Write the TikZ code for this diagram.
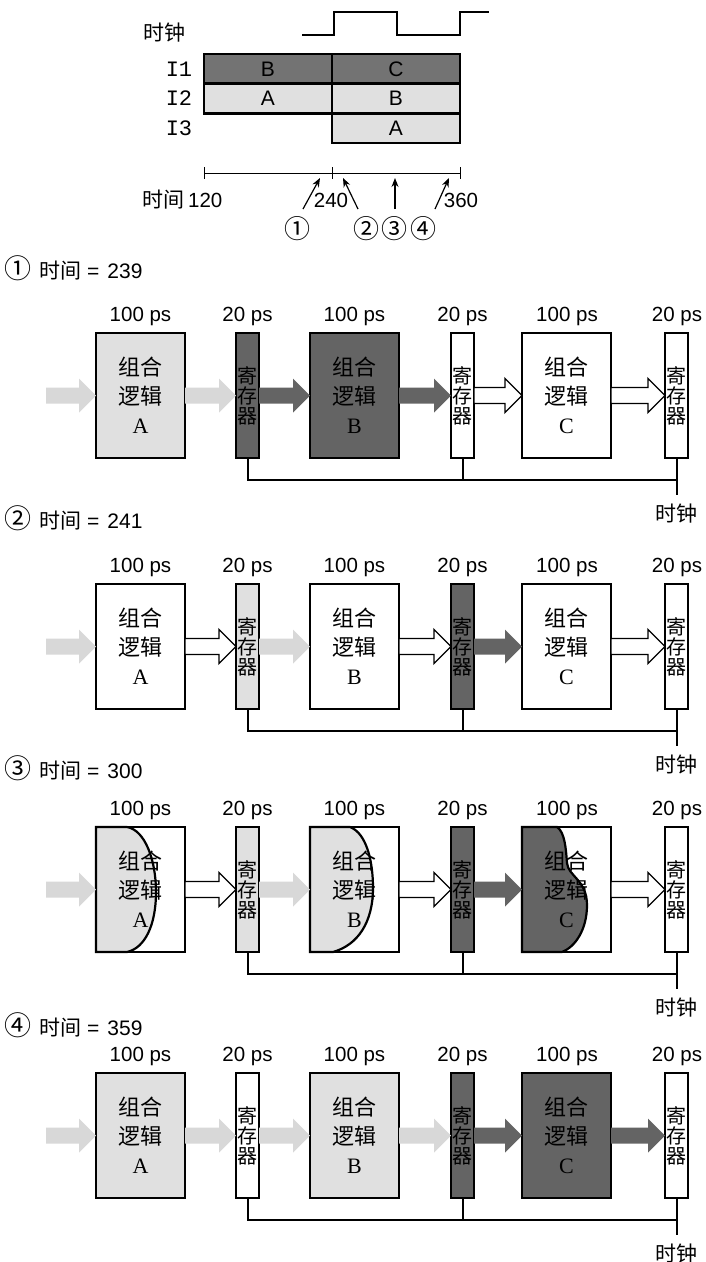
\documentclass[tikz,border=0pt]{standalone}
\usepackage{fontspec}
\setmainfont{Liberation Serif}
\newfontfamily\cjk{Noto Sans CJK SC}
\newfontfamily\hel{Liberation Sans}
\newfontfamily\mono{Liberation Mono}
\usetikzlibrary{calc,arrows.meta}
\definecolor{lt}{HTML}{E0E0E0}
\definecolor{dk}{HTML}{646464}
\definecolor{dkt}{HTML}{737373}
\definecolor{fd}{HTML}{D8D8D8}
\newcommand\fsz[1]{\fontsize{#1}{#1}\selectfont}
\tikzset{
  blk/.style={draw=black, line width=2.5pt, minimum width=89pt, minimum height=125pt,
    anchor=north west, inner sep=0pt, outer sep=0pt, align=center,
    font=\fontsize{22}{29}\selectfont},
  reg/.style={draw=black, line width=2.5pt, minimum width=23pt, minimum height=125pt,
    anchor=north west, inner sep=0pt, outer sep=0pt, align=center,
    font=\cjk\fontsize{20}{20}\selectfont},
  cell/.style={draw=black, line width=2.5pt, minimum width=128pt, minimum height=29.7pt,
    anchor=north west, inner sep=0pt, outer sep=0pt, font=\hel\fsz{21}},
  ps/.style={font=\hel\fsz{20.5}, inner sep=0pt},
  cjkl/.style={font=\cjk\fsz{21}, inner sep=0pt},
  monol/.style={font=\mono\fsz{22}, inner sep=0pt},
  circ/.style={font=\cjk\fsz{26}, inner sep=0pt},
  head/.style={anchor=west, inner sep=0pt},
  fade/.style={fill=fd, draw=none},
  dark/.style={fill=dk, draw=none},
  hollow/.style={fill=white, draw=black, line width=1.3pt, line join=miter},
  clk/.style={draw=black, line width=2pt},
  wave/.style={draw=black, line width=1.5pt},
  tarr/.style={draw=black, line width=1.2pt, -{Stealth[length=9pt,width=7pt]}},
  curvefill/.style={line width=2.2pt, draw=black},
}
\newcommand\fatarrow[3]{\path[#1] let \p1=(#2), \p2=(#3) in
  (\x1,\y1+8pt) -- (\x2-17pt,\y1+8pt) -- (\x2-17pt,\y1+17pt) -- (\x2,\y1) --
  (\x2-17pt,\y1-17pt) -- (\x2-17pt,\y1-8pt) -- (\x1,\y1-8pt) -- cycle;}
\newcommand\hd[2]{{\cjk\fsz{27}#1}\hspace{8pt}{\cjk\fsz{21}时间}\hspace{6pt}{\hel\fsz{21}=\hspace{8pt}#2}}
\newcommand\drawpanel[3]{%
  #3
  \node[ps] (pa#2) at (140.5,#1-17) {100 ps};
  \node[ps] (pb#2) at (247.5,#1-17) {20 ps};
  \node[ps] (pc#2) at (354.5,#1-17) {100 ps};
  \node[ps] (pd#2) at (462.5,#1-17) {20 ps};
  \node[ps] (pe#2) at (567,#1-17) {100 ps};
  \node[ps] (pf#2) at (677,#1-17) {20 ps};
  \node[blk,sA] (A#2) at (96,#1) {{\cjk 组合}\\{\cjk 逻辑}\\A};
  \node[reg,sR1] (Ra#2) at (236,#1) {寄\\存\\器};
  \node[blk,sB] (B#2) at (310,#1) {{\cjk 组合}\\{\cjk 逻辑}\\B};
  \node[reg,sR2] (Rb#2) at (451,#1) {寄\\存\\器};
  \node[blk,sC] (C#2) at (522,#1) {{\cjk 组合}\\{\cjk 逻辑}\\C};
  \node[reg,sR3] (Rc#2) at (665,#1) {寄\\存\\器};
  \coordinate (in#2) at (46,#1+62.5);
  \fatarrow{a0}{in#2}{A#2.west}
  \fatarrow{a1}{A#2.east}{Ra#2.west}
  \fatarrow{a2}{Ra#2.east}{B#2.west}
  \fatarrow{a3}{B#2.east}{Rb#2.west}
  \fatarrow{a4}{Rb#2.east}{C#2.west}
  \fatarrow{a5}{C#2.east}{Rc#2.west}
  \coordinate (j#2) at ($(Ra#2.south)+(0,22)$);
  \coordinate (k#2) at ($(Rc#2.south)+(0,37)$);
  \draw[clk] (Ra#2.south) -- (j#2) -- (j#2 -| Rc#2.south);
  \draw[clk] (Rb#2.south) -- (Rb#2.south |- j#2);
  \draw[clk] (Rc#2.south) -- (k#2);
  \node[cjkl] (t#2) at ($(k#2)+(0,19)$) {时钟};
}
\begin{document}
\begin{tikzpicture}[x=1pt,y=-1pt]
\fill[white] (0,0) rectangle (705,1262);
\useasboundingbox (0,0) rectangle (705,1262);

% ---------- timing diagram ----------
\node[cjkl] (clklab) at (164,33) {时钟};
\draw[wave] (302,35) -- (334,35) -- (334,12) -- (397,12) -- (397,35) -- (460,35) -- (460,12) -- (489,12);
\node[cell,fill=dkt] (c11) at (204,54) {B};
\node[cell,fill=dkt] (c12) at (332,54) {C};
\node[cell,fill=lt] (c21) at (204,83.7) {A};
\node[cell,fill=lt] (c22) at (332,83.7) {B};
\node[cell,fill=lt] (c32) at (332,113.4) {A};
\node[monol] (l1) at (179,69) {I1};
\node[monol] (l2) at (179,98.5) {I2};
\node[monol] (l3) at (179,128) {I3};

\draw[line width=1pt] (204,173) -- (460,173);
\draw[line width=1pt] (204,167) -- (204,179);
\draw[line width=1pt] (332,167) -- (332,179);
\draw[line width=1pt] (460,167) -- (460,179);
\node[head] (t120) at (142,200) {{\cjk\fsz{21}时间}\hspace{4pt}{\hel\fsz{20.5}120}};
\node[ps] (t240) at (331,200) {240};
\node[ps] (t360) at (461,200) {360};
\coordinate (q1s) at (303,209); \coordinate (q1e) at (320,178);
\coordinate (q2s) at (358,209); \coordinate (q2e) at (343,178);
\coordinate (q3s) at (395,209); \coordinate (q3e) at (395,178);
\coordinate (q4s) at (435,209); \coordinate (q4e) at (449,178);
\draw[tarr] (q1s) -- (q1e);
\draw[tarr] (q2s) -- (q2e);
\draw[tarr] (q3s) -- (q3e);
\draw[tarr] (q4s) -- (q4e);
\node[circ] (n1) at (297,229) {①};
\node[circ] (n2) at (366,229) {②};
\node[circ] (n3) at (394,229) {③};
\node[circ] (n4) at (423,229) {④};

% ---------- panel 1 ----------
\node[head] (h1) at (4,268) {\hd{①}{239}};
\tikzset{sA/.style={fill=lt}, sR1/.style={fill=dk}, sB/.style={fill=dk},
  sR2/.style={fill=white}, sC/.style={fill=white}, sR3/.style={fill=white},
  a0/.style={fade}, a1/.style={fade}, a2/.style={dark}, a3/.style={dark},
  a4/.style={hollow}, a5/.style={hollow}}
\drawpanel{333}{1}{}

% ---------- panel 2 ----------
\node[head] (h2) at (4,518) {\hd{②}{241}};
\tikzset{sA/.style={fill=white}, sR1/.style={fill=lt}, sB/.style={fill=white},
  sR2/.style={fill=dk}, sC/.style={fill=white}, sR3/.style={fill=white},
  a0/.style={fade}, a1/.style={hollow}, a2/.style={fade}, a3/.style={hollow},
  a4/.style={dark}, a5/.style={hollow}}
\drawpanel{584}{2}{}

% ---------- panel 3 ----------
\node[head] (h3) at (4,768) {\hd{③}{300}};
\tikzset{sA/.style={fill=none}, sR1/.style={fill=lt}, sB/.style={fill=none},
  sR2/.style={fill=dk}, sC/.style={fill=none}, sR3/.style={fill=white},
  a0/.style={fade}, a1/.style={hollow}, a2/.style={fade}, a3/.style={hollow},
  a4/.style={dark}, a5/.style={hollow}}
\drawpanel{827}{3}{%
  \filldraw[curvefill, fill=lt] (96,827) -- (127,827) .. controls (145,830) and (156,860) .. (156,892)
     .. controls (156,925) and (145,948) .. (127,952) -- (96,952) -- cycle;
  \filldraw[curvefill, fill=lt] (310,827) -- (350,827) .. controls (366,833) and (373,860) .. (373,888)
     .. controls (373,922) and (358,945) .. (333,952) -- (310,952) -- cycle;
  \filldraw[curvefill, fill=dk] (522,827) -- (557,827) .. controls (565,832) and (566,850) .. (567,863)
     .. controls (568,876) and (587,880) .. (587,905) .. controls (587,930) and (575,947) .. (562,952)
     -- (522,952) -- cycle;
}

% ---------- panel 4 ----------
\node[head] (h4) at (4,1025) {\hd{④}{359}};
\tikzset{sA/.style={fill=lt}, sR1/.style={fill=white}, sB/.style={fill=lt},
  sR2/.style={fill=dk}, sC/.style={fill=dk}, sR3/.style={fill=white},
  a0/.style={fade}, a1/.style={fade}, a2/.style={fade}, a3/.style={fade},
  a4/.style={dark}, a5/.style={dark}}
\drawpanel{1073}{4}{}

\end{tikzpicture}
\end{document}
